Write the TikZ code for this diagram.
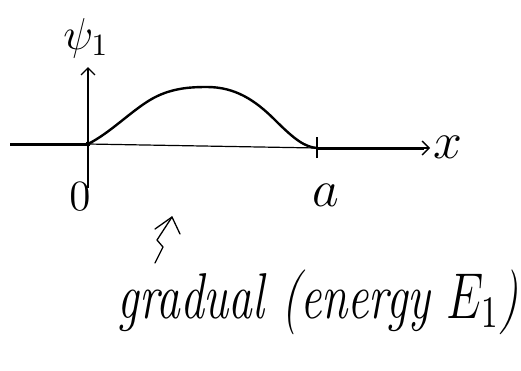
\documentclass[tikz,border=0pt]{standalone}
\usetikzlibrary{arrows.meta}
\begin{document}
\begin{tikzpicture}[x=1pt,y=-1pt,
  axisthin/.style={line width=1.2pt},
  axisthick/.style={line width=3pt},
  curvepen/.style={line width=2.4pt, line cap=round, line join=round},
  lbl/.style={inner sep=0pt, font=\Large},
  tip/.style={-{Straight Barb[length=7pt,width=14pt,line width=1.3pt]}}]
\useasboundingbox (0,0) rectangle (521,370);
% coordinates
\coordinate (L) at (10,144);
\coordinate (O) at (88,144);
\coordinate (A) at (317,148);
\coordinate (R) at (430,148);
\coordinate (Vtop) at (88,67);
\coordinate (Vbot) at (88,188);
% axes
\draw[axisthick] (L) -- (O);
\draw[axisthin] (O) -- (A);
\draw[axisthick] (A) -- ([xshift=-6pt]R);
\draw[axisthin,tip] (A) -- (R);
\draw[axisthin,tip] (Vbot) -- (Vtop);
\draw[line width=1.2pt] ([yshift=-10pt]A) -- ([yshift=11pt]A);
\fill (O) circle (2.5pt);
% curve
\draw[curvepen] (O) .. controls (110,133) and (130,112) .. (150,100)
  .. controls (170,88) and (190,87) .. (207,87)
  .. controls (235,87) and (255,100) .. (275,120)
  .. controls (295,140) and (305,147) .. (A);
% labels
\node[lbl, scale=3.1] (psi) at (86,38) {$\psi_1$};
\node[lbl, scale=3] (zero) at (80,197) {$0$};
\node[lbl, scale=3.6] (alab) at (326,195) {$a$};
\node[lbl, scale=3.6, anchor=west] (xlab) at (433,147) {$x$};
% squiggly arrow
\coordinate (s0) at (155,263);
\coordinate (s1) at (163,247);
\coordinate (s2) at (157,240);
\coordinate (s3) at (172,217);
\draw[line width=1.3pt, line cap=round, line join=round] (s0) -- (s1) -- (s2) -- (s3);
\draw[line width=1.3pt, line cap=round, line join=round] (155,229) -- (s3) -- (180,234);
% caption
\node[inner sep=0pt, anchor=base west, font=\Large\itshape, xscale=3.3, yscale=4.5] (cap) at (117,318) {gradual (energy $E_1$)};
\end{tikzpicture}
\end{document}
